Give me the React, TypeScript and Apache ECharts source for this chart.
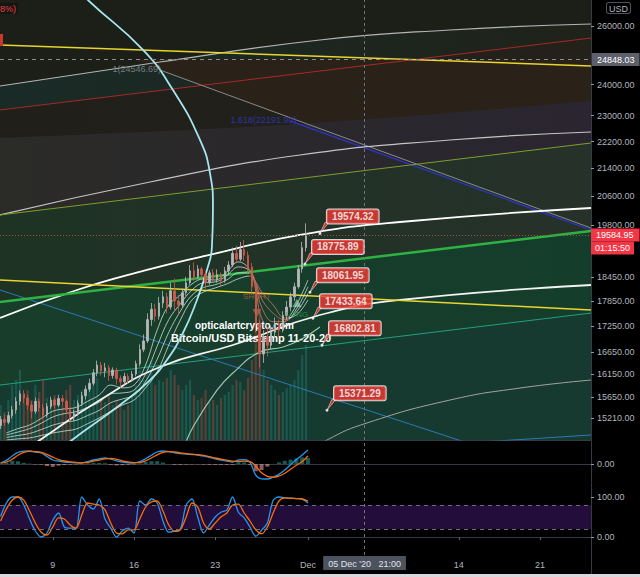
import React, { useEffect, useRef } from "react";
import * as echarts from "echarts";

// ---------- axes ----------
const dayMin = 3.45;
const dayMax = 54.4;
const priceMin = 14758;
const priceMax = 26941;
const priceTicks = [26000, 24000, 23000, 22200, 21400, 20600, 19800, 18450, 17850, 17250, 16650, 16150, 15650, 15210];
const timeTickDays = [8, 15, 22, 30, 43, 50];
const timeTickLabels = ["9", "16", "23", "Dec", "14", "21"];

const lastPrice = 19584.95;
const lastPriceTimer = "01:15:50";
const markedLevel = 24848.03;
const crosshairDay = 34.875;
const crosshairLabel = "05 Dec '20   21:00";

// ---------- candles (8h) ----------
const candleStartDay = 3.5;
const candleStepDay = 1 / 3;
const candleOpen = [15050, 15180, 15120, 15260, 15380, 15560, 15720, 15630, 15480, 15350, 15560, 15420, 15270, 15450, 15590, 15480, 15620, 15560, 15380, 15230, 15300, 15520, 15680, 15820, 15950, 16180, 16350, 16220, 16290, 16120, 16240, 16050, 15980, 16100, 16020, 16150, 16380, 16700, 16900, 17400, 17650, 17480, 17800, 17950, 17700, 18100, 17850, 17750, 18050, 18300, 18600, 18450, 18650, 18500, 18300, 18550, 18400, 18500, 18350, 18600, 18750, 19050, 18900, 19150, 19000, 18700, 18200, 17300, 16600, 17000, 16800, 17100, 17300, 17150, 17500, 17700, 17950, 18200, 18650, 19200];
const candleClose = [15180, 15120, 15260, 15380, 15560, 15720, 15630, 15480, 15350, 15560, 15420, 15270, 15450, 15590, 15480, 15620, 15560, 15380, 15230, 15300, 15520, 15680, 15820, 15950, 16180, 16350, 16220, 16290, 16120, 16240, 16050, 15980, 16100, 16020, 16150, 16380, 16700, 16900, 17400, 17650, 17480, 17800, 17950, 17700, 18100, 17850, 17750, 18050, 18300, 18600, 18450, 18650, 18500, 18300, 18550, 18400, 18500, 18350, 18600, 18750, 19050, 18900, 19150, 19000, 18700, 18200, 17300, 16600, 17000, 16800, 17100, 17300, 17150, 17500, 17700, 17950, 18200, 18650, 19200, 19585];
const candleLow = [14980, 15050, 15080, 15200, 15300, 15480, 15520, 15380, 15200, 15300, 15340, 15180, 15220, 15400, 15410, 15440, 15470, 15300, 15140, 15150, 15260, 15460, 15600, 15760, 15900, 16100, 16120, 16080, 16000, 16050, 15920, 15840, 15900, 15940, 15980, 16100, 16320, 16640, 16850, 17250, 17350, 17400, 17680, 17550, 17640, 17600, 17500, 17700, 17980, 18250, 18350, 18400, 18380, 18150, 18250, 18320, 18300, 18200, 18300, 18500, 18700, 18800, 18850, 18850, 18550, 18000, 17100, 16300, 16400, 16550, 16700, 17000, 16950, 17100, 17400, 17600, 17850, 18150, 18550, 19100];
const candleHigh = [15250, 15280, 15340, 15460, 15650, 15790, 15800, 15700, 15560, 15640, 15620, 15500, 15520, 15660, 15640, 15700, 15690, 15600, 15420, 15380, 15580, 15760, 15900, 16050, 16260, 16450, 16420, 16400, 16350, 16300, 16290, 16120, 16180, 16160, 16220, 16450, 16820, 17050, 17550, 17800, 17780, 17950, 18100, 18050, 18300, 18400, 18000, 18150, 18450, 18750, 18820, 18750, 18700, 18600, 18620, 18650, 18640, 18560, 18700, 18850, 19200, 19250, 19350, 19400, 19100, 18800, 18300, 17400, 17150, 17200, 17250, 17450, 17400, 17600, 17850, 18050, 18300, 18750, 19350, 19850];
const volume = [35, 28, 40, 55, 60, 70, 45, 50, 40, 55, 48, 60, 42, 38, 45, 40, 35, 50, 55, 40, 45, 50, 48, 55, 60, 62, 40, 38, 45, 35, 40, 36, 30, 35, 45, 55, 70, 60, 75, 80, 55, 60, 58, 62, 70, 65, 55, 50, 55, 60, 45, 40, 42, 50, 38, 40, 35, 42, 45, 48, 55, 60, 58, 50, 62, 80, 110, 130, 70, 60, 55, 50, 45, 48, 52, 55, 60, 70, 85, 95];

// ---------- moving-average ribbon ----------
const ribbonDays = [4, 5, 6, 7, 8, 9, 10, 11, 12, 13, 14, 15, 16, 17, 18, 19, 20, 21, 22, 23, 24, 25, 25.5, 26, 27, 28, 29, 30];
const ribbonFast = [14900, 14990, 15064, 15200, 15350, 15400, 15430, 15560, 15694, 15910, 15850, 15910, 16352, 17154, 17751, 17995, 18270, 18395, 18369, 18570, 18830, 18620, 18119, 17440, 17154, 17340, 17751, 18369];
const ribbonMid1 = [14860, 14920, 14990, 15100, 15230, 15300, 15340, 15430, 15540, 15720, 15740, 15800, 16150, 16780, 17400, 17780, 18120, 18300, 18320, 18480, 18700, 18600, 18250, 17700, 17350, 17360, 17650, 18200];
const ribbonMid2 = [14810, 14850, 14890, 14970, 15060, 15120, 15160, 15260, 15370, 15530, 15610, 15690, 15990, 16480, 17100, 17600, 17990, 18180, 18250, 18370, 18550, 18540, 18300, 17900, 17550, 17400, 17580, 18030];
const ribbonSlow = [14758, 14780, 14800, 14850, 14900, 14940, 14980, 15090, 15210, 15350, 15481, 15587, 15850, 16200, 16806, 17390, 17873, 18070, 18170, 18270, 18400, 18470, 18320, 18070, 17751, 17440, 17510, 17873];

// ---------- indicators (12h) ----------
const indStartDay = 3.5;
const indStepDay = 0.5;
const macdLine = [25, 90, 200, 290, 320, 325, 300, 275, 190, 100, 70, 50, 40, 30, 25, 60, 100, 130, 150, 120, 80, 50, 30, 25, 60, 130, 220, 300, 325, 310, 280, 260, 245, 235, 225, 200, 165, 130, 100, 75, 50, 100, 110, 40, -280, -370, -375, -330, -260, -150, -20, 110, 225, 350];
const macdSignal = [20, 50, 120, 220, 290, 315, 310, 290, 240, 170, 110, 75, 55, 40, 30, 40, 70, 100, 130, 140, 115, 80, 50, 35, 40, 80, 150, 230, 290, 310, 300, 280, 260, 245, 232, 215, 185, 150, 120, 95, 70, 60, 70, 60, -50, -220, -310, -330, -300, -230, -130, -30, 60, 200];
const macdHist = [5, 40, 80, 70, 30, 10, -10, -15, -50, -70, -40, -25, -15, -10, -5, 20, 30, 30, 20, -20, -35, -30, -20, -10, 20, 50, 70, 70, 35, 0, -20, -20, -15, -10, -7, -15, -20, -20, -20, -20, -20, 40, 40, -20, -180, -150, -65, 0, 40, 80, 110, 140, 165, 150];
const stochK = [51, 85, 100, 100, 80, 45, 15, 0, 10, 42, 60, 25, 22, 22, 100, 80, 70, 95, 45, 22, 0, 15, 22, 10, 90, 80, 95, 85, 40, 12, 15, 20, 80, 95, 50, 10, 30, 50, 62, 67, 100, 62, 48, 25, 2, 17, 35, 92, 100, 98, 97, 96, 95, 85];
const stochD = [40, 70, 92, 100, 92, 65, 35, 12, 5, 25, 48, 45, 30, 22, 55, 85, 82, 80, 68, 35, 10, 8, 18, 18, 45, 75, 88, 90, 65, 30, 14, 18, 50, 85, 75, 35, 20, 35, 50, 60, 80, 82, 60, 40, 18, 8, 25, 60, 90, 98, 97, 96, 95, 90];

// ---------- drawings: [day, price] ----------
const g1Line = [[3.45, 23951], [17.24, 24750], [31.03, 25507], [42.24, 25858], [54.4, 26071]];
const redLine = [[3.45, 23178], [54.4, 25576]];
const yellowTop = [[3.45, 25333], [54.4, 24616]];
const fanBoundary = [[3.45, 22307], [29.31, 22738], [54.4, 23465]];
const brownZone = [[14.91, 24848.03], [54.4, 24848.03], [54.4, 22863], [33.62, 22246]];
const grayDiag = [[17.24, 24481], [54.4, 19723]];
const blueDiag = [[28.45, 22832], [54.4, 19669]];
const g2Line = [[3.45, 20077], [16.38, 21004], [29.31, 21794], [42.24, 22246], [54.4, 22491]];
const oliveLine = [[3.45, 20077], [54.4, 22155]];
const w1Line = [[3.45, 17440], [10.09, 18119], [16.12, 18622], [20.69, 18954], [29.31, 19536], [37.93, 19885], [54.4, 20270]];
const greenLine = [[3.45, 17824], [54.4, 19642]];
const yellowLow = [[3.45, 18369], [54.4, 17630]];
const w2Line = [[5.17, 14459], [6.9, 14758], [12.07, 15587], [17.24, 16307], [23.53, 16806], [31.03, 17510], [37.93, 17873], [54.4, 18244]];
const steelLine = [[3.45, 18119], [44.83, 14617]];
const steelLow = [[44.83, 14716], [54.4, 14859]];
const tealLine = [[3.45, 15910], [54.4, 17557]];
const g3Line = [[30.6, 14557], [31.64, 14758], [35.09, 15106], [42.24, 15587], [48.28, 15845], [54.4, 16019]];
const cyanArc = [[10.34, 27312], [11.03, 26941], [15.78, 25161], [18.36, 23820], [20.69, 22246], [21.55, 21262], [21.81, 20298], [21.72, 19216], [21.29, 18622], [20.43, 17873], [19.22, 17084], [17.84, 16464], [16.38, 16019], [13.79, 15481], [9.66, 14758], [8.62, 14557]];
const mintArc = [[31.03, 17225], [29.31, 16921], [27.84, 16760], [25.86, 16645], [23.53, 16174], [22.16, 15802], [20.09, 15023], [19.4, 14657]];

const calloutDays = [31.03, 29.74, 30.17, 30.43, 31.21, 31.64];
const calloutPrices = [19574.32, 18775.89, 18061.95, 17433.64, 16802.81, 15371.29];

const fibLabelDays = [13.1, 23.28];
const fibLabelPrices = [24515, 22863];
const fibLabelTexts = ["1(24546.69)", "1.618(22191.90)"];

const signalDays = [25.6, 29.05];
const signalTextPrices = [17970, 17532];
const signalArrowPrices = [17557, 17800];
const signalTexts = ["SHORT", "LONG"];

// ---------- helpers ----------
const FONT = '"Liberation Sans", Arial, sans-serif';
const LN = Math.log;
const toXY = (pts: number[][]) => pts.map(([d, p]) => [d, LN(p)]);
const grad = (a: string, b: string) =>
  new echarts.graphic.LinearGradient(0, 0, 1, 0, [
    { offset: 0, color: a },
    { offset: 1, color: b },
  ]);

const areaFill = (pts: number[][], color: any, z: number, smooth = false) => ({
  type: "line",
  xAxisIndex: 0,
  yAxisIndex: 0,
  data: toXY(pts),
  smooth: smooth ? 0.4 : false,
  symbol: "none",
  silent: true,
  z,
  lineStyle: { width: 0, opacity: 0 },
  areaStyle: { color, opacity: 1, origin: "start" },
});

const polygonFill = (pts: number[][], color: string, z: number) => ({
  type: "custom",
  xAxisIndex: 0,
  yAxisIndex: 0,
  silent: true,
  z,
  clip: true,
  data: [[pts[0][0], LN(pts[0][1])]],
  renderItem: (_p: any, api: any) => ({
    type: "polygon",
    shape: { points: pts.map(([d, p]) => api.coord([d, LN(p)])) },
    style: { fill: color },
  }),
});

const lineS = (pts: number[][], color: string, width: number, smooth = false, extra: any = {}) => ({
  type: "line",
  xAxisIndex: 0,
  yAxisIndex: 0,
  data: toXY(pts),
  smooth: smooth ? 0.5 : false,
  symbol: "none",
  silent: true,
  z: 3,
  lineStyle: { color, width },
  ...extra,
});

const crosshairMark = (withLabel: boolean) => ({
  silent: true,
  symbol: "none",
  data: [{ xAxis: crosshairDay }],
  lineStyle: { color: "#6f737d", type: [3, 3], width: 1 },
  label: withLabel
    ? {
        show: true,
        position: "start",
        distance: 1,
        formatter: crosshairLabel,
        color: "#e0e3eb",
        backgroundColor: "#4c525e",
        padding: [3, 5, 2, 5],
        fontSize: 9,
        fontFamily: FONT,
      }
    : { show: false },
});

function buildOption() {
  const series: any[] = [];

  // background zones
  series.push(areaFill(g1Line, grad("#1a2b27", "#1f2219"), 1.01, true));
  series.push(areaFill(redLine, grad("#201f1a", "#23211a"), 1.02));
  series.push(polygonFill(brownZone, "#2a2218", 1.03));
  series.push(areaFill(fanBoundary, grad("#2b2b28", "#2a2530"), 1.04, true));
  series.push(areaFill(oliveLine, grad("#1e3324", "#26312a"), 1.05));
  series.push(areaFill(greenLine, grad("#183e2b", "#153d2c"), 1.06));
  series.push(areaFill(tealLine, "#163a2f", 1.07));

  // volume
  series.push({
    type: "bar",
    xAxisIndex: 0,
    yAxisIndex: 1,
    barWidth: 2.2,
    silent: true,
    z: 2,
    data: volume.map((v, i) => ({
      value: [candleStartDay + i * candleStepDay, v],
      itemStyle: {
        color: candleClose[i] >= candleOpen[i] ? "rgba(38,166,154,0.28)" : "rgba(239,83,80,0.3)",
      },
    })),
  });

  // drawing lines
  series.push(lineS(g1Line, "#b4b4b4", 1.2, true));
  series.push(lineS(redLine, "#a82828", 1));
  series.push(lineS(grayDiag, "#8a8a8a", 1));
  series.push(lineS(blueDiag, "#2a36c8", 1.3));
  series.push(lineS(g2Line, "#c4c4c4", 1.2, true));
  series.push(lineS(oliveLine, "#7d9e2a", 1));
  series.push(lineS(tealLine, "#23a07f", 1));
  series.push(lineS(steelLine, "#2a7ab8", 1));
  series.push(lineS(steelLow, "#2a7ab8", 1));
  series.push(lineS(g3Line, "#a3a3a3", 1, true));
  series.push(lineS(mintArc, "rgba(190,230,210,0.8)", 1.2, true));
  series.push(lineS(w2Line, "#f2f2f2", 1.8, true));
  series.push(lineS(w1Line, "#ffffff", 1.8, true));
  series.push(lineS(greenLine, "#2db342", 2.5, false, { markLine: crosshairMark(false) }));
  series.push(lineS(yellowLow, "#e8d52e", 1.5));
  series.push(
    lineS(yellowTop, "#e8d52e", 1.5, false, {
      markLine: {
        silent: true,
        symbol: "none",
        data: [{ yAxis: LN(markedLevel) }],
        lineStyle: { color: "#8a8d96", type: [4, 4], width: 1 },
        label: {
          show: true,
          position: "end",
          distance: 1,
          formatter: markedLevel.toFixed(2),
          color: "#ffffff",
          backgroundColor: "#5d606b",
          padding: [2, 5, 2, 5],
          fontSize: 9,
          fontFamily: FONT,
        },
      },
    })
  );
  series.push(lineS(cyanArc, "#a6e4ee", 1.8, true));

  // ribbon
  const ribbonIdx: number[] = [];
  [ribbonFast, ribbonMid1, ribbonMid2, ribbonSlow].forEach((arr) => {
    ribbonIdx.push(series.length);
    series.push({
      type: "line",
      xAxisIndex: 0,
      yAxisIndex: 0,
      data: arr.map((p, i) => [ribbonDays[i], LN(p)]),
      smooth: 0.4,
      symbol: "none",
      silent: true,
      z: 3.5,
      lineStyle: { width: 1 },
    });
  });

  // candles
  series.push({
    type: "candlestick",
    xAxisIndex: 0,
    yAxisIndex: 0,
    barWidth: 2,
    silent: true,
    z: 4,
    data: candleOpen.map((o, i) => [
      candleStartDay + i * candleStepDay,
      LN(o),
      LN(candleClose[i]),
      LN(candleLow[i]),
      LN(candleHigh[i]),
    ]),
    itemStyle: {
      color: "#b9b9b9",
      color0: "#d4594c",
      borderColor: "#b9b9b9",
      borderColor0: "#d4594c",
      borderWidth: 0.8,
    },
    markLine: {
      silent: true,
      symbol: "none",
      data: [{ yAxis: LN(lastPrice) }],
      lineStyle: { color: "#9c5b3a", type: [1, 2], width: 1 },
      label: {
        show: true,
        position: "end",
        distance: 0,
        padding: [13, 0, 0, 0],
        formatter: "{p|" + lastPrice.toFixed(2) + "}\n{t|" + lastPriceTimer + "}",
        rich: {
          p: { backgroundColor: "#f23645", color: "#fff", fontSize: 9, fontFamily: FONT, padding: [2, 6, 2, 5], lineHeight: 13 },
          t: { backgroundColor: "#f23645", color: "#fff", fontSize: 9, fontFamily: FONT, padding: [2, 4, 2, 4], lineHeight: 13 },
        },
      },
    },
  });

  // fib level labels
  series.push({
    type: "scatter",
    xAxisIndex: 0,
    yAxisIndex: 0,
    silent: true,
    z: 5,
    symbolSize: 1,
    itemStyle: { color: "rgba(0,0,0,0)" },
    data: fibLabelDays.map((d, i) => ({
      value: [d, LN(fibLabelPrices[i])],
      label: { color: i === 0 ? "#8f9199" : "#2e3bd0" },
    })),
    label: {
      show: true,
      position: "right",
      distance: 0,
      fontSize: 9,
      fontFamily: FONT,
      formatter: (p: any) => fibLabelTexts[p.dataIndex],
    },
  });

  // SHORT / LONG texts and arrows
  series.push({
    type: "scatter",
    xAxisIndex: 0,
    yAxisIndex: 0,
    silent: true,
    z: 5,
    symbolSize: 1,
    itemStyle: { color: "rgba(0,0,0,0)" },
    data: signalDays.map((d, i) => ({
      value: [d, LN(signalTextPrices[i])],
      label: { color: i === 0 ? "#b8604e" : "#2c9a55" },
    })),
    label: {
      show: true,
      position: "inside",
      fontSize: 8,
      fontFamily: FONT,
      formatter: (p: any) => signalTexts[p.dataIndex],
    },
  });
  series.push({
    type: "scatter",
    xAxisIndex: 0,
    yAxisIndex: 0,
    silent: true,
    z: 5,
    symbol: "triangle",
    symbolSize: [9, 8],
    data: signalDays.map((d, i) => ({
      value: [d, LN(signalArrowPrices[i])],
      symbolRotate: i === 0 ? 180 : 0,
      itemStyle: { color: i === 0 ? "rgba(190,100,80,0.85)" : "rgba(170,225,200,0.8)" },
    })),
  });

  // callouts
  series.push({
    type: "scatter",
    xAxisIndex: 0,
    yAxisIndex: 0,
    silent: true,
    z: 6,
    symbol: "path://M0,11 L5,0 L9,0 Z",
    symbolSize: [9, 11],
    symbolOffset: [4.5, -5.5],
    itemStyle: { color: "#ef3b36", borderColor: "#ffffff", borderWidth: 0.6 },
    data: calloutDays.map((d, i) => [d, LN(calloutPrices[i])]),
  });
  series.push({
    type: "scatter",
    xAxisIndex: 0,
    yAxisIndex: 0,
    silent: true,
    z: 7,
    symbolSize: 3,
    itemStyle: { color: "#ffffff" },
    data: calloutDays.map((d, i) => [d, LN(calloutPrices[i])]),
    label: {
      show: true,
      position: [8.5, -22.5],
      formatter: (p: any) => calloutPrices[p.dataIndex].toFixed(2),
      color: "#ffffff",
      fontWeight: "bold",
      fontSize: 10,
      fontFamily: FONT,
      lineHeight: 12,
      backgroundColor: "#ef3b36",
      borderColor: "#ffffff",
      borderWidth: 1,
      borderRadius: 2,
      padding: [1, 5, 1, 5],
    },
  });

  // MACD pane
  const indDay = (i: number) => indStartDay + i * indStepDay;
  series.push({
    type: "bar",
    xAxisIndex: 1,
    yAxisIndex: 2,
    barWidth: 4,
    silent: true,
    z: 2,
    data: macdHist.map((v, i) => ({
      value: [indDay(i), v],
      itemStyle: { color: v >= 0 ? "rgba(38,166,154,0.55)" : "rgba(239,154,154,0.6)" },
    })),
  });
  series.push({
    type: "line",
    xAxisIndex: 1,
    yAxisIndex: 2,
    symbol: "none",
    smooth: 0.4,
    silent: true,
    z: 3,
    data: macdLine.map((v, i) => [indDay(i), v]),
    lineStyle: { color: "#2196f3", width: 1.3 },
    markLine: crosshairMark(false),
  });
  series.push({
    type: "line",
    xAxisIndex: 1,
    yAxisIndex: 2,
    symbol: "none",
    smooth: 0.4,
    silent: true,
    z: 3,
    data: macdSignal.map((v, i) => [indDay(i), v]),
    lineStyle: { color: "#ff6d00", width: 1.3 },
  });

  // Stoch pane
  series.push({
    type: "line",
    xAxisIndex: 2,
    yAxisIndex: 3,
    symbol: "none",
    smooth: 0.3,
    silent: true,
    z: 3,
    data: stochK.map((v, i) => [indDay(i), v]),
    lineStyle: { color: "#2196f3", width: 1.3 },
    markArea: {
      silent: true,
      itemStyle: { color: "#220d3b" },
      data: [[{ yAxis: 20 }, { yAxis: 80 }]],
    },
    markLine: {
      silent: true,
      symbol: "none",
      label: { show: false },
      lineStyle: { color: "#6b6e79", type: [4, 4], width: 1 },
      data: [{ yAxis: 20 }, { yAxis: 80 }],
    },
  });
  series.push({
    type: "line",
    xAxisIndex: 2,
    yAxisIndex: 3,
    symbol: "none",
    smooth: 0.3,
    silent: true,
    z: 3,
    data: stochD.map((v, i) => [indDay(i), v]),
    lineStyle: { color: "#ff6d00", width: 1.3 },
    markLine: crosshairMark(true),
  });

  const xBase = (gridIndex: number, showLabels: boolean) => ({
    type: "value",
    gridIndex,
    min: dayMin,
    max: dayMax,
    axisLine: { show: true, lineStyle: { color: "#363a45", width: 1 } },
    splitLine: { show: false },
    axisTick: showLabels
      ? { show: true, length: 3, customValues: timeTickDays, lineStyle: { color: "#5d606b" } }
      : { show: false },
    axisLabel: showLabels
      ? {
          show: true,
          customValues: timeTickDays,
          margin: 5,
          color: "#b2b5be",
          fontSize: 9,
          fontFamily: FONT,
          formatter: (v: number) => {
            const k = timeTickDays.indexOf(v);
            return k >= 0 ? timeTickLabels[k] : "";
          },
        }
      : { show: false },
  });

  const yRight = (gridIndex: number, min: number, max: number, ticks: number[], fmt: (v: number) => string) => ({
    type: "value",
    gridIndex,
    position: "right",
    min,
    max,
    axisLine: { show: true, lineStyle: { color: "#363a45", width: 1 } },
    splitLine: { show: false },
    axisTick: { show: true, length: 3, customValues: ticks, lineStyle: { color: "#9598a1" } },
    axisLabel: {
      show: true,
      customValues: ticks,
      margin: 6,
      color: "#b2b5be",
      fontSize: 9,
      fontFamily: FONT,
      formatter: fmt,
    },
  });

  return {
    animation: false,
    backgroundColor: "#000000",
    grid: [
      { left: 0, top: 0, width: 591, height: 440, show: true, backgroundColor: "#1c1f17", borderWidth: 0, outerBoundsMode: "none", containLabel: false },
      { left: 0, top: 441, width: 591, height: 41, show: true, backgroundColor: "#000000", borderWidth: 0, outerBoundsMode: "none", containLabel: false },
      { left: 0, top: 483, width: 591, height: 72, show: true, backgroundColor: "#000000", borderWidth: 0, outerBoundsMode: "none", containLabel: false },
    ],
    xAxis: [xBase(0, false), xBase(1, false), xBase(2, true)],
    yAxis: [
      yRight(0, LN(priceMin), LN(priceMax), priceTicks.map(LN), (v: number) => Math.exp(v).toFixed(2)),
      { type: "value", gridIndex: 0, min: 0, max: 440, show: false, splitLine: { show: false } },
      yRight(1, -450, 575, [0], (v: number) => v.toFixed(2)),
      yRight(2, -45, 135, [0, 100], (v: number) => v.toFixed(2)),
    ],
    visualMap: [
      {
        type: "piecewise",
        show: false,
        dimension: 0,
        seriesIndex: ribbonIdx,
        pieces: [
          { lt: 24.9, color: "rgba(220,242,232,0.72)" },
          { gte: 24.9, lt: 28.4, color: "rgba(215,115,100,0.8)" },
          { gte: 28.4, color: "rgba(220,242,232,0.72)" },
        ],
      },
    ],
    graphic: [
      {
        type: "text",
        left: 195,
        top: 320,
        z: 2,
        silent: true,
        style: { text: "opticalartcrypto.com", fill: "#ffffff", font: 'bold 10px "Liberation Sans", Arial' },
      },
      {
        type: "text",
        left: 171,
        top: 332,
        z: 2,
        silent: true,
        style: { text: "Bitcoin/USD Bitstamp 11-20-20", fill: "#ffffff", font: 'bold 11px "Liberation Sans", Arial' },
      },
      {
        type: "text",
        left: 606,
        top: 2,
        z: 10,
        silent: true,
        style: {
          text: "USD",
          fill: "#b2b5be",
          font: '9px "Liberation Sans", Arial',
          backgroundColor: "#000000",
          borderColor: "#50535e",
          borderWidth: 1,
          borderRadius: 2,
          padding: [1, 2, 0, 2],
        },
      },
      {
        type: "text",
        left: 0,
        top: 3,
        z: 10,
        silent: true,
        style: { text: "8%)", fill: "#e8433c", font: '9px "Liberation Sans", Arial', backgroundColor: "#151515", padding: [1, 2, 1, 0] },
      },
      { type: "rect", left: 0, top: 34, z: 10, silent: true, shape: { width: 3, height: 12 }, style: { fill: "#c8362e" } },
      { type: "line", z: 10, silent: true, shape: { x1: 591.5, y1: 555, x2: 591.5, y2: 574 }, style: { stroke: "#363a45", lineWidth: 1 } },
      { type: "rect", left: 0, top: 574, z: 10, silent: true, shape: { width: 640, height: 3 }, style: { fill: "#d6d8de" } },
    ],
    series,
  };
}

export default function App() {
  const ref = useRef<HTMLDivElement>(null);
  useEffect(() => {
    if (!ref.current) return;
    const chart = echarts.init(ref.current, null, { renderer: "svg" });
    chart.setOption(buildOption() as any);
    return () => chart.dispose();
  }, []);
  return <div ref={ref} style={{ position: "absolute", left: 0, top: 0, width: 640, height: 577 }} />;
}
